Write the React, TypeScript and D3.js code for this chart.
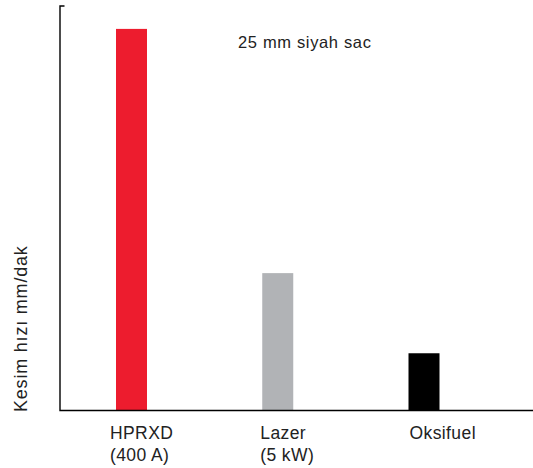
import React from "react";
import * as d3 from "d3";

const categories = ["HPRXD", "Lazer", "Oksifuel"];
const subLabels = ["(400 A)", "(5 kW)", ""];
const values = [2000, 720, 300];
const colors = ["#ED1C2E", "#B1B3B6", "#000000"];
const labelOffsets = [-6, -2, 1];
const title = "25 mm siyah sac";
const yLabel = "Kesim hızı mm/dak";

const W = 533;
const H = 468;
const axisX = 60;
const axisY = 410.5;
const axisTop = 6;
const barW = 31;

export default function App() {
  const x = d3.scalePoint<string>().domain(categories).range([131.5, 424]);
  const y = d3.scaleLinear().domain([0, 2120]).range([axisY, axisTop]);
  const font = "'Liberation Sans', Arial, Helvetica, sans-serif";
  return (
    <svg width={W} height={H} style={{ position: "absolute", left: 0, top: 0, background: "#fff" }} fontFamily={font}>
      {categories.map((c, i) => (
        <rect key={c} x={(x(c) as number) - barW / 2} y={y(values[i])} width={barW} height={axisY - y(values[i])} fill={colors[i]} />
      ))}
      <path d={`M${axisX + 4.5},${axisTop} H${axisX} V${axisY} H${W}`} fill="none" stroke="#000" strokeWidth={1.4} />
      {categories.map((c, i) => {
        const lx = (x(c) as number) - barW / 2 + labelOffsets[i];
        return (
          <text key={c} x={lx} y={439} fontSize={17.5} letterSpacing={0.4} fill="#222">
            <tspan>{c}</tspan>
            {subLabels[i] && <tspan x={lx} dy={21.5}>{subLabels[i]}</tspan>}
          </text>
        );
      })}
      <text x={238} y={48.3} fontSize={16.5} letterSpacing={0.65} fill="#222">{title}</text>
      <text transform={`translate(26.5,412) rotate(-90)`} fontSize={18} letterSpacing={0.8} fill="#222">{yLabel}</text>
    </svg>
  );
}
